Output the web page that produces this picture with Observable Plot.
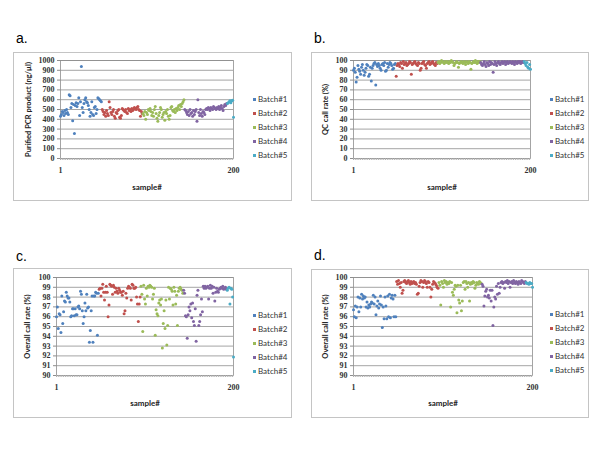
<!DOCTYPE html>
<html><head><meta charset="utf-8">
<script src="https://cdn.jsdelivr.net/npm/d3@7"></script>
<script src="https://cdn.jsdelivr.net/npm/@observablehq/plot@0.6"></script>
<style>
body{margin:0;background:#fff;}
#root{position:relative;width:600px;height:450px;overflow:hidden;background:#fff;}
.box{position:absolute;border:1px solid #c4c4c4;box-sizing:border-box;}
.lab{position:absolute;font:14px "Liberation Sans",Arial,sans-serif;color:#000;line-height:16px;}
.sw{position:absolute;width:3px;height:3px;}
.lt{position:absolute;font:8px Lato,"Open Sans",sans-serif;color:#333;line-height:10px;white-space:nowrap;}
.pl{position:absolute;}
</style></head>
<body><div id="root"></div>
<script>
// ---------- shared categories / labels ----------
const batches = ["Batch#1","Batch#2","Batch#3","Batch#4","Batch#5"];
const batchColors = ["#4F81BD","#C0504D","#9BBB59","#8064A2","#4BACC6"];
const xTicks = [1, 200];
const xTickLabels = ["1", "200"];
const xTitle = "sample#";

// ---------- panel a: Purified PCR product (ng/µl) ----------
const a_b1 = [430,450,480,470,440,490,460,500,470,450,650,640,520,560,385,550,255,540,570,530,560,620,440,580,940,520,470,560,600,620,580,570,540,500,430,470,580,450,440,520,530,460,500,620,610,600,590,580];
const a_b2 = [500,480,450,470,430,490,460,440,580,520,470,450,480,500,430,410,470,460,490,500,420,410,440,510,500,490,480,500,470,460,510,490,500,480,510,490,500,520,510,500,520,530,500,490,430,480,460];
const a_b3 = [460,440,480,400,470,450,500,490,510,480,440,470,430,500,530,460,410,380,440,470,520,500,420,450,470,390,480,460,500,430,400,440,520,530,490,480,500,470,510,490,520,540,500,550,530,560,580,600];
const a_b4 = [500,490,470,450,480,440,500,460,470,430,490,450,480,500,380,600,470,440,500,460,430,480,470,450,500,510,500,520,510,490,520,510,500,530,520,510,500,520,510,530,500,520,540,510,490,530,550,540,560];
const a_b5 = [560,570,580,590,570,590,595,420];
const a_yTicks = [0,100,200,300,400,500,600,700,800,900,1000];
const a_yTitle = "Purified PCR product (ng/µl)";

// ---------- panel b: QC call rate (%) ----------
const b_b1 = [90,92,88,78,83,95,91,89,86,93,96,90,85,88,92,96,95,84,86,93,79,92,95,97,98,75,96,94,97,95,92,90,96,97,95,98,89,90,97,93,96,98,97,95,91,92,96,97];
const b_b2 = [84,95,97,96,94,98,97,92,99,96,97,98,95,96,97,99,98,86,96,97,98,99,97,96,95,98,97,90,92,97,98,99,96,95,92,97,98,99,96,97,98,99,97,96,95,98,97];
const b_b3 = [98,99,97,98,100,99,98,97,99,98,99,98,97,99,98,100,99,98,95,97,98,99,98,93,97,98,99,98,97,99,98,96,99,98,97,99,98,91,97,98,99,98,100,98,97,99,98,99];
const b_b4 = [98,96,95,97,99,96,94,98,97,95,99,96,98,97,88,96,99,97,95,98,99,97,96,98,99,97,98,99,96,98,99,97,98,99,98,97,99,98,96,99,98,97,99,98,99,97,98,99,98];
const b_b5 = [99,97,95,98,93,92,96,91];
const b_yTicks = [0,10,20,30,40,50,60,70,80,90,100];
const b_yTitle = "QC call rate (%)";

// ---------- panel c: Overall call rate (%) ----------
const c_b1 = [96.0,97.0,94.8,96.3,96.2,94.4,98.1,95.3,96.5,97.6,97.5,98.5,98.1,97.9,97.9,97.5,96.0,96.1,96.8,96.8,96.1,96.8,96.2,96.2,97.0,97.1,96.8,98.6,98.3,96.6,95.3,96.0,97.4,96.6,98.3,96.9,97.0,93.4,94.6,96.6,98.1,93.4,98.1,98.1,98.5,98.4,94.1,98.4];
const c_b2 = [98.8,98.9,98.1,98.9,99.3,98.5,97.7,98.5,99.1,98.5,96.0,97.2,99.3,99.2,99.1,98.3,99.2,99.0,98.5,98.9,98.6,98.4,98.9,98.7,98.5,98.5,98.2,98.6,96.3,96.6,98.4,97.9,98.9,99.1,99.0,98.9,97.7,99.3,99.2,98.9,98.9,99.0,98.0,97.3,95.5,97.3,98.0];
const c_b3 = [99.1,98.3,94.5,99.2,97.8,97.3,98.9,98.1,99.1,99.0,99.2,99.1,99.0,97.8,98.3,98.9,94.1,96.7,96.3,96.1,97.4,97.7,97.2,97.8,92.8,95.3,96.6,94.8,97.7,93.1,95.1,99.0,97.8,98.9,98.8,98.6,97.2,99.0,98.6,97.3,98.2,95.1,98.6,98.9,99.0,98.8,98.7,98.4];
const c_b4 = [98.7,98.4,96.1,96.0,93.8,96.2,97.0,96.6,97.3,95.9,97.4,95.5,95.1,96.8,93.5,98.2,98.7,95.1,95.5,96.2,97.8,96.5,99.1,98.9,99.1,98.9,99.0,99.1,97.8,98.9,99.2,98.9,99.1,98.4,99.0,97.6,98.5,98.9,98.6,98.5,98.8,98.9,99.0,98.9,99.1,98.8,98.9,99.0,98.8];
const c_b5 = [98.7,98.9,99.0,97.3,98.9,98.8,98.0,91.9];
const c_yTicks = [90,91,92,93,94,95,96,97,98,99,100];
const c_yTitle = "Overall call rate (%)";

// ---------- panel d: Overall call rate (%) ----------
const d_b1 = [96.7,96.0,97.1,95.9,97.0,98.0,96.5,97.9,97.0,98.3,97.8,98.1,97.9,98.0,97.0,97.5,96.9,97.2,97.0,97.3,97.5,97.4,98.2,97.3,98.0,96.2,97.1,97.6,96.9,97.3,98.1,97.2,94.9,97.0,95.8,98.0,97.1,95.8,98.1,96.0,98.3,95.9,97.9,98.2,97.8,96.0,98.2,96.0];
const d_b2 = [99.6,99.3,99.7,99.4,99.0,99.5,98.4,98.7,99.6,99.7,99.5,99.4,99.6,99.7,99.5,99.3,99.6,99.4,99.5,99.6,99.4,99.5,99.3,98.3,98.4,99.1,99.5,99.7,99.6,99.0,99.5,99.7,99.6,99.4,99.0,99.6,99.5,99.0,98.0,98.8,99.3,99.6,99.5,99.4,99.2,99.0,98.9];
const d_b3 = [99.5,99.2,97.2,99.6,99.4,99.0,99.7,99.5,99.6,99.3,99.5,99.4,99.6,97.0,99.5,98.5,98.2,98.8,99.2,99.1,96.4,99.2,97.7,97.4,99.2,96.6,97.6,99.5,99.6,98.8,99.6,99.4,99.0,99.5,97.6,99.3,99.5,99.4,99.6,99.5,98.9,99.2,99.5,99.4,99.3,99.6,99.5,99.4];
const d_b4 = [99.3,99.1,97.1,98.1,98.6,98.8,98.0,98.2,97.9,98.7,97.6,98.7,95.1,97.0,98.0,97.8,99.1,98.3,99.4,98.4,99.0,99.5,99.6,99.4,99.5,98.9,99.6,99.5,99.7,99.4,99.6,99.0,99.5,99.6,99.4,99.7,99.5,99.4,99.6,99.5,99.3,99.6,99.5,99.4,99.7,99.6,99.5,99.4,99.6];
const d_b5 = [99.5,99.4,99.4,99.3,99.5,99.4,99.4,99.0];
const d_yTicks = c_yTicks;
const d_yTitle = "Overall call rate (%)";

// ---------- layout (page pixels) ----------
const panels = [
  {tag:"a.", series:[a_b1,a_b2,a_b3,a_b4,a_b5], yTicks:a_yTicks, yTitle:a_yTitle,
   box:[13,52,292,201], plot:[60,60,233,158], labelPos:[16,30], yTitleX:28, xTitleY:187,
   legend:{mx:254, tx:258, y0:99, step:14}},
  {tag:"b.", series:[b_b1,b_b2,b_b3,b_b4,b_b5], yTicks:b_yTicks, yTitle:b_yTitle,
   box:[311,52,589,201], plot:[353,60,530,158], labelPos:[314,30], yTitleX:325, xTitleY:187,
   legend:{mx:551, tx:555, y0:99, step:14}},
  {tag:"c.", series:[c_b1,c_b2,c_b3,c_b4,c_b5], yTicks:c_yTicks, yTitle:c_yTitle,
   box:[13,268,292,418], plot:[56,277,233,375], labelPos:[16,248], yTitleX:27, xTitleY:403,
   legend:{mx:254, tx:258, y0:315, step:14}},
  {tag:"d.", series:[d_b1,d_b2,d_b3,d_b4,d_b5], yTicks:d_yTicks, yTitle:d_yTitle,
   box:[311,269,589,418], plot:[353,277,532,375], labelPos:[314,247], yTitleX:325, xTitleY:403,
   legend:{mx:551, tx:555, y0:314, step:14}}
];

const root = document.getElementById("root");
const grid = "#8e8e8e";
const xLab = new Map(xTicks.map((t, i) => [t, xTickLabels[i]]));

for (const p of panels) {
  const box = document.createElement("div");
  box.className = "box";
  Object.assign(box.style, {left: p.box[0]+"px", top: p.box[1]+"px",
    width: (p.box[2]-p.box[0])+"px", height: (p.box[3]-p.box[1])+"px"});
  root.appendChild(box);

  const lab = document.createElement("div");
  lab.className = "lab"; lab.textContent = p.tag;
  Object.assign(lab.style, {left: p.labelPos[0]+"px", top: p.labelPos[1]+"px"});
  root.appendChild(lab);

  const rows = [];
  let s = 1;
  p.series.forEach((arr, bi) => arr.forEach(v => rows.push({sample: s++, value: v, batch: batches[bi]})));

  const sx = p.box[0] + 1, sy = p.box[1] + 1;
  const W = p.plot[2] + 12 - sx, H = p.box[3] - 1 - sy;
  const ml = p.plot[0] - sx, mt = p.plot[1] - sy, mr = sx + W - p.plot[2], mb = sy + H - p.plot[3];

  const chart = Plot.plot({
    width: W, height: H,
    marginLeft: ml, marginTop: mt, marginRight: mr, marginBottom: mb,
    x: {domain: [xTicks[0], xTicks[xTicks.length-1]], label: null},
    y: {domain: [p.yTicks[0], p.yTicks[p.yTicks.length-1]], label: null},
    color: {domain: batches, range: batchColors},
    style: {fontFamily: "'Liberation Serif', serif", fontSize: "8px", fontWeight: "bold", color: "#333", background: "transparent", overflow: "visible"},
    marks: [
      Plot.gridY(p.yTicks, {stroke: grid, strokeOpacity: 1, strokeWidth: 0.8}),
      Plot.frame({stroke: grid, strokeWidth: 0.8}),
      Plot.axisX(d3.range(xTicks[0], xTicks[1] + 1, 2), {tickSize: 2, tickFormat: () => "", stroke: "#b0b0b0"}),
      Plot.axisX(xTicks, {tickSize: 0, tickPadding: 9, tickFormat: d => xLab.get(d)}),
      Plot.axisY(p.yTicks, {tickSize: 3, tickPadding: 3, stroke: grid, tickFormat: d => String(d)}),
      Plot.dot(rows, {x: "sample", y: "value", fill: "batch", r: 1.5}),
      Plot.text([p.yTitle], {frameAnchor: "left", rotate: -90, dx: p.yTitleX - p.plot[0],
        textAnchor: "middle", lineAnchor: "middle", fontFamily: "Lato, sans-serif", fontWeight: "bold", fontSize: 7.5, fill: "#222"}),
      Plot.text([xTitle], {frameAnchor: "bottom", dy: p.xTitleY - p.plot[3],
        textAnchor: "middle", lineAnchor: "middle", fontFamily: "Lato, sans-serif", fontWeight: "bold", fontSize: 8, fill: "#222"})
    ]
  });
  chart.classList.add("pl");
  Object.assign(chart.style, {left: sx+"px", top: sy+"px"});
  root.appendChild(chart);

  batches.forEach((b, i) => {
    const y = p.legend.y0 + i * p.legend.step;
    const sw = document.createElement("div");
    sw.className = "sw";
    Object.assign(sw.style, {left: (p.legend.mx-1.5)+"px", top: (y-1.5)+"px", background: batchColors[i]});
    root.appendChild(sw);
    const t = document.createElement("div");
    t.className = "lt"; t.textContent = b;
    Object.assign(t.style, {left: p.legend.tx+"px", top: (y-5)+"px"});
    root.appendChild(t);
  });
}
</script></body></html>
